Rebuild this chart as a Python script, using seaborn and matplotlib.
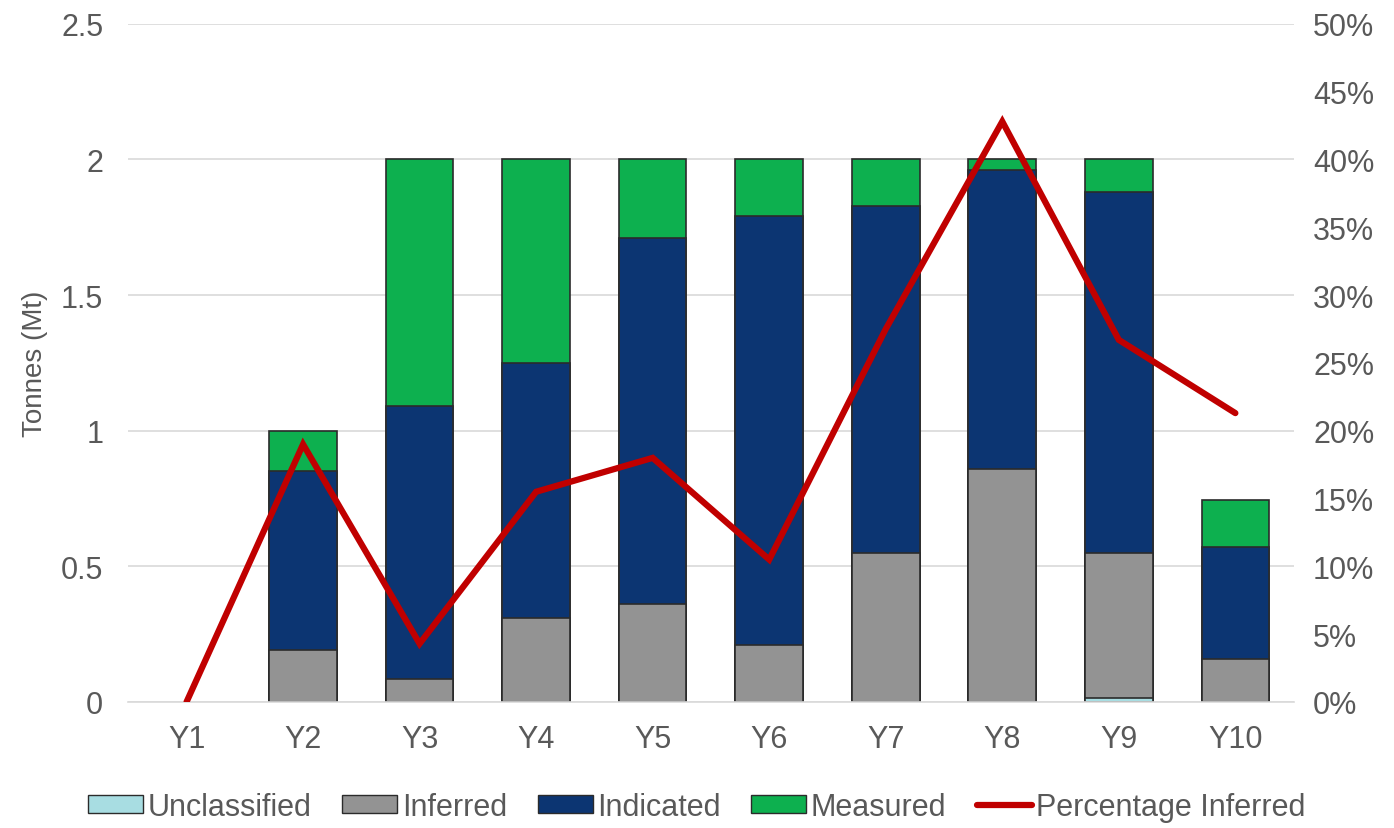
import numpy as np
import pandas as pd
import matplotlib.pyplot as plt
import seaborn as sns
from matplotlib.patches import Patch
from matplotlib.lines import Line2D

years = ["Y1", "Y2", "Y3", "Y4", "Y5", "Y6", "Y7", "Y8", "Y9", "Y10"]
unclassified = [0, 0, 0, 0, 0, 0, 0, 0, 0.015, 0]
inferred = [0, 0.19, 0.085, 0.31, 0.36, 0.21, 0.55, 0.86, 0.535, 0.16]
indicated = [0, 0.66, 1.005, 0.94, 1.35, 1.58, 1.28, 1.10, 1.33, 0.41]
measured = [0, 0.15, 0.91, 0.75, 0.29, 0.21, 0.17, 0.04, 0.12, 0.175]
pct_inferred = [0.0, 19.0, 4.3, 15.5, 18.0, 10.5, 27.5, 42.8, 26.7, 21.3]

sns.set_theme(style="white")
plt.rcParams["font.family"] = ["Liberation Sans", "DejaVu Sans"]

df = pd.DataFrame({"year": years, "unc": unclassified, "inf": inferred,
                   "ind": indicated, "mea": measured, "pct": pct_inferred})
# cumulative heights so the tallest layer is drawn first
df["c_unc"] = df["unc"]
df["c_inf"] = df["c_unc"] + df["inf"]
df["c_ind"] = df["c_inf"] + df["ind"]
df["c_mea"] = df["c_ind"] + df["mea"]

colors = {"Unclassified": "#a8dde2", "Inferred": "#939393",
          "Indicated": "#0c3572", "Measured": "#0db04f"}

fig, ax = plt.subplots(figsize=(13.94, 8.29), dpi=100)
fig.subplots_adjust(left=0.092, right=0.928, top=0.97, bottom=0.152)

for col, name in [("c_mea", "Measured"), ("c_ind", "Indicated"),
                  ("c_inf", "Inferred"), ("c_unc", "Unclassified")]:
    sns.barplot(data=df, x="year", y=col, color=colors[name], width=0.58,
                edgecolor="#2b2b2b", linewidth=1.2, saturation=1, ax=ax)

# empty bars (Y1) should not leave an outline on the axis
for p in ax.patches:
    if p.get_height() <= 0:
        p.set_visible(False)

ax.set_ylim(0, 2.5)
ax.set_yticks([0, 0.5, 1, 1.5, 2, 2.5])
ax.set_yticklabels(["0", "0.5", "1", "1.5", "2", "2.5"])
ax.set_xlim(-0.5, 9.5)
ax.set_xlabel("")
ax.set_ylabel("Tonnes (Mt)", fontsize=20, color="#595959", labelpad=9)
ax.yaxis.grid(True, color="#d9d9d9", linewidth=1.2)
ax.set_axisbelow(True)
ax.tick_params(axis="y", labelsize=22, colors="#595959", length=0, pad=18)
ax.tick_params(axis="x", labelsize=22, colors="#595959", length=0, pad=16)
for s in ["top", "right", "left"]:
    ax.spines[s].set_visible(False)
ax.spines["bottom"].set_color("#d9d9d9")
ax.spines["bottom"].set_linewidth(1.2)

ax2 = ax.twinx()
sns.lineplot(x=np.arange(len(years)), y=df["pct"], color="#c00000",
             linewidth=4.5, ax=ax2, solid_capstyle="round", solid_joinstyle="miter")
ax2.set_ylim(0, 50)
ax2.set_yticks(range(0, 55, 5))
ax2.set_yticklabels([f"{v}%" for v in range(0, 55, 5)])
ax2.set_ylabel("")
ax2.tick_params(axis="y", labelsize=22, colors="#595959", length=0, pad=14)
for s in ax2.spines.values():
    s.set_visible(False)

handles = [Patch(facecolor=colors[n], edgecolor="#2b2b2b", label=n)
           for n in ["Unclassified", "Inferred", "Indicated", "Measured"]]
handles.append(Line2D([0], [0], color="#c00000", linewidth=4.5,
                      solid_capstyle="round", label="Percentage Inferred"))
fig.legend(handles=handles, loc="lower center", bbox_to_anchor=(0.5, -0.026),
           ncol=5, frameon=False, fontsize=22, labelcolor="#595959",
           handlelength=1.8, handleheight=0.55, handletextpad=0.15,
           columnspacing=1.0)

plt.savefig("out.png", dpi=100)
